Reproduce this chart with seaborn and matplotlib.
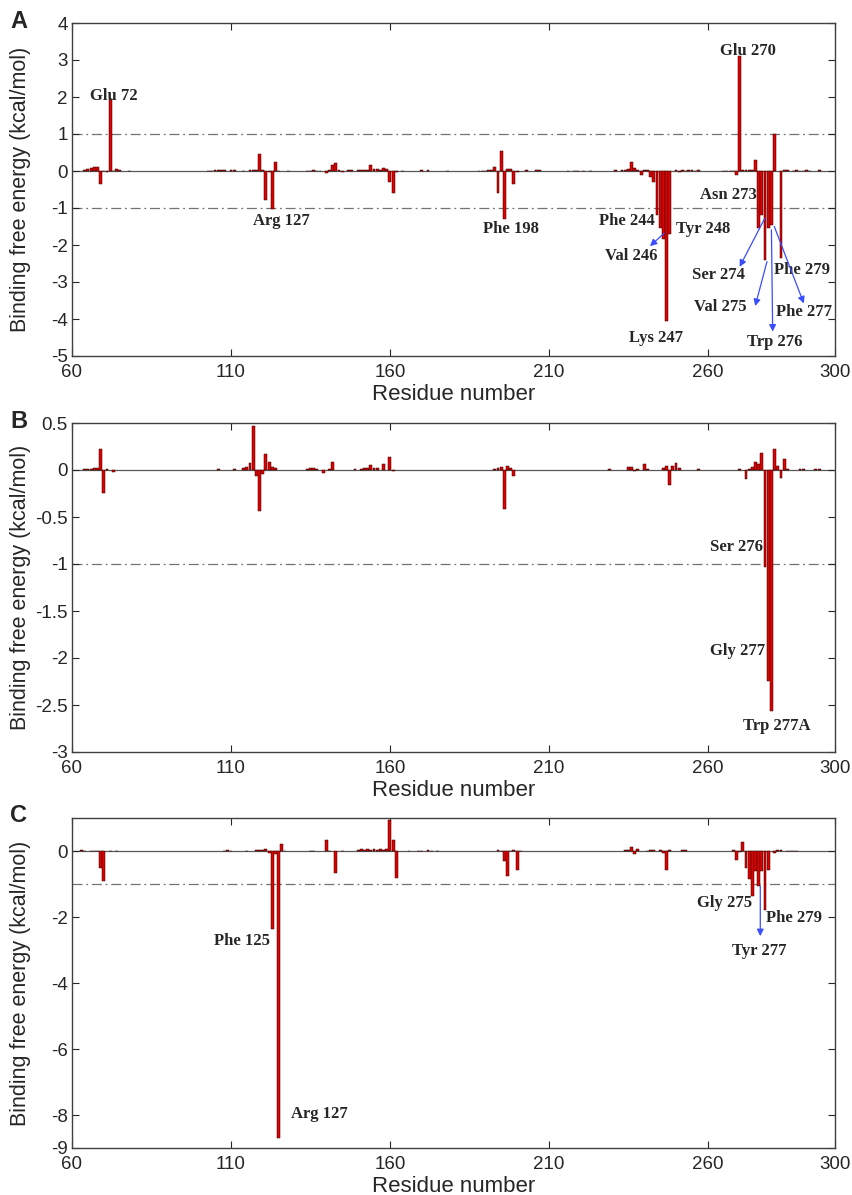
import matplotlib
matplotlib.use("Agg")
import matplotlib.pyplot as plt
import seaborn as sns
import pandas as pd

# ---- panel A: per-residue binding free energy (kcal/mol)
res_a = [64, 65, 66, 67, 68, 69, 70, 71, 72, 73, 74, 75, 78,
         103, 104, 105, 106, 107, 108, 110, 111, 114, 116, 117, 118, 119, 120, 121, 122, 123, 124, 125, 128,
         134, 135, 136, 137, 138, 140, 141, 142, 143, 144, 145, 147, 148, 150, 151, 152, 153, 154, 155,
         156, 157, 158, 159, 160, 161, 162, 164, 170, 172, 178,
         188, 189, 190, 191, 192, 193, 194, 195, 196, 197, 198, 199, 200, 203, 206, 207,
         216, 218, 219, 221, 223, 231, 233, 234, 235, 236, 237, 238, 239, 240, 241, 242, 243, 244, 245,
         246, 247, 248, 250, 251, 252, 253, 254, 255, 256, 257,
         265, 266, 267, 268, 269, 270, 271, 272, 273, 274, 275, 276, 277, 278, 279, 280, 281, 283, 284,
         285, 287, 288, 289, 290, 291, 292, 295]
dg_a = [0.03, 0.05, 0.07, 0.10, 0.10, -0.35, 0.01, -0.03, 1.95, 0.01, 0.06, 0.02, 0.01,
        0.01, 0.01, 0.02, 0.02, 0.03, 0.03, 0.02, 0.02, 0.01, 0.02, 0.03, 0.04, 0.45, 0.03, -0.78, -0.02, -1.04, 0.23, 0.01, 0.01,
        0.01, 0.01, 0.02, 0.01, 0.01, -0.05, 0.03, 0.15, 0.22, 0.02, -0.02, 0.02, 0.02, 0.03, 0.02, 0.04, 0.03, 0.15, 0.05,
        0.06, 0.02, 0.08, 0.05, -0.30, -0.60, -0.02, 0.01, 0.02, 0.02, 0.01,
        0.01, 0.01, 0.01, 0.02, 0.03, 0.12, -0.60, 0.53, -1.30, 0.05, 0.05, -0.35, -0.02, 0.02, 0.04, 0.03,
        0.01, 0.01, 0.01, 0.01, 0.01, 0.02, 0.02, 0.03, 0.05, 0.23, 0.07, 0.03, -0.10, 0.03, 0.02, -0.15, -0.30, -1.20, -1.55,
        -1.85, -4.05, -1.70, 0.03, -0.03, 0.02, 0.01, 0.02, 0.02, 0.01, 0.02,
        0.01, 0.01, 0.01, 0.01, -0.10, 3.10, 0.02, 0.02, 0.02, 0.02, 0.30, -1.55, -1.20, -2.40, -1.55, -1.45, 1.00, -2.35, 0.02,
        0.02, 0.01, 0.02, 0.01, 0.01, 0.02, 0.01, 0.02]

# ---- panel B
res_b = [64, 65, 66, 67, 68, 69, 70, 71, 73,
         106, 111, 114, 115, 116, 117, 118, 119, 120, 121, 122, 123, 124,
         134, 135, 136, 137, 139, 141, 142, 149, 151, 152, 153, 154, 155, 156, 158, 160, 161,
         193, 194, 195, 196, 197, 198, 199,
         229, 235, 236, 237, 238, 240, 241, 246, 247, 248, 249, 250, 251, 257,
         270, 272, 273, 274, 275, 276, 277, 278, 279, 280, 281, 282, 283, 284, 285, 289, 290, 294, 295]
dg_b = [0.01, 0.01, 0.015, 0.02, 0.02, 0.22, -0.24, 0.01, -0.02,
        0.01, 0.01, 0.02, 0.03, 0.07, 0.47, -0.06, -0.44, -0.04, 0.17, 0.08, 0.03, 0.02,
        0.01, 0.02, 0.02, 0.01, -0.03, 0.01, 0.09, 0.01, 0.01, 0.02, 0.02, 0.05, 0.02, 0.02, 0.06, 0.14, -0.01,
        0.01, 0.02, 0.03, -0.42, 0.04, 0.02, -0.06,
        0.01, 0.03, 0.03, -0.01, 0.01, 0.06, 0.01, 0.02, 0.04, -0.16, 0.04, 0.07, 0.02, 0.01,
        0.01, -0.10, 0.01, 0.03, 0.08, 0.06, 0.18, -1.03, -2.24, -2.56, 0.22, 0.04, -0.09, 0.12, 0.01, 0.01, 0.01, 0.01, 0.01]

# ---- panel C
res_c = [63, 64, 66, 67, 68, 69, 70, 72, 74,
         108, 109, 110, 115, 118, 119, 120, 121, 122, 123, 124, 125, 126, 127,
         135, 136, 140, 141, 143, 145, 150, 151, 152, 153, 154, 155, 156, 157, 158, 159, 160, 161, 162,
         166, 169, 170, 172, 173, 175,
         194, 195, 196, 197, 198, 199, 200, 201,
         234, 235, 236, 237, 238, 241, 242, 243, 245, 246, 247, 248, 252, 253,
         268, 269, 270, 271, 272, 273, 274, 275, 276, 277, 278, 279, 281, 282, 283, 285, 286, 287, 288]
dg_c = [0.03, 0.01, 0.01, 0.01, 0.01, -0.50, -0.90, 0.01, -0.01,
        0.01, 0.02, 0.01, -0.01, 0.02, 0.03, 0.04, 0.06, -0.05, -2.35, -0.08, -8.70, 0.20, -0.01,
        0.01, 0.01, 0.32, 0.01, -0.68, -0.01, 0.03, 0.05, 0.02, 0.07, 0.02, 0.07, 0.02, 0.07, 0.03, 0.07, 0.95, 0.33, -0.83,
        -0.01, 0.01, 0.01, 0.02, 0.01, -0.01,
        0.03, 0.01, -0.30, -0.75, 0.01, 0.03, -0.58, -0.01,
        0.02, 0.02, 0.12, -0.08, 0.05, 0.01, 0.02, 0.03, 0.03, -0.05, -0.58, 0.02, 0.04, 0.03,
        0.02, -0.27, -0.03, 0.28, -0.50, -0.85, -1.35, -0.60, -1.05, -0.60, -1.80, -0.58, -0.05, 0.02, 0.03, 0.01, 0.01, 0.01, 0.01]

# residue labels: (text, x, y)
labels_a = [("Glu 72", 73, 2.03), ("Arg 127", 126, -1.35), ("Phe 198", 198.2, -1.58),
            ("Phe 244", 234.5, -1.34), ("Tyr 248", 258.4, -1.58), ("Val 246", 236, -2.3),
            ("Lys 247", 243.6, -4.5), ("Glu 270", 272.6, 3.24), ("Asn 273", 266.5, -0.65),
            ("Ser 274", 263.4, -2.81), ("Val 275", 263.9, -3.68), ("Phe 279", 289.7, -2.68),
            ("Phe 277", 290.2, -3.8), ("Trp 276", 281.2, -4.61)]
arrows_a = [((246.3, -1.68), (241.8, -2.03)), ((277.9, -1.28), (270.0, -2.59)),
            ((278.6, -2.45), (274.9, -3.65)), ((280.0, -1.59), (280.4, -4.34)),
            ((280.9, -1.50), (290.2, -3.58))]
labels_b = [("Ser 276", 269.1, -0.815), ("Gly 277", 269.5, -1.93), ("Trp 277A", 281.6, -2.72)]
labels_c = [("Phe 125", 113.5, -2.73), ("Arg 127", 137.7, -7.98), ("Gly 275", 265.3, -1.59),
            ("Phe 279", 287.2, -2.02), ("Tyr 277", 276.3, -3.03)]
arrows_c = [((276.5, -1.06), (276.5, -2.58))]

sns.set_style("ticks")
plt.rcParams["font.family"] = ["Liberation Sans", "DejaVu Sans"]

BAR = "#e00000"
SERIF = ["Liberation Serif", "DejaVu Serif"]

fig = plt.figure(figsize=(8.53, 11.95), dpi=100)
W, H = 853, 1195


def panel(rect_px, res, dg, ylim, yticks, refs, letter, labels, arrows):
    left, top, right, bottom = rect_px
    ax = fig.add_axes([left / W, 1 - bottom / H, (right - left) / W, (bottom - top) / H])
    df = pd.DataFrame({"res": res, "dg": dg})
    sns.barplot(data=df, x="res", y="dg", native_scale=True, color=BAR,
                saturation=1, edgecolor="#2a0000", linewidth=0.35, width=0.9, ax=ax)
    ax.axhline(0, color="0.35", lw=0.9, zorder=0.5)
    for r in refs:
        ax.axhline(r, color="0.45", lw=0.9, ls=(0, (8, 3, 1.5, 3)), zorder=0.5)
    ax.set_xlim(60, 300)
    ax.set_ylim(*ylim)
    ax.set_xticks([60, 110, 160, 210, 260, 300])
    ax.set_yticks(yticks)
    ax.set_yticklabels([f"{v:g}" for v in yticks])
    ax.tick_params(direction="in", top=True, right=True, length=5, width=0.8,
                   labelsize=13.5, pad=3)
    ax.tick_params(axis="x", pad=6)
    for s in ax.spines.values():
        s.set_linewidth(1.0)
        s.set_color("0.25")
    ax.set_xlabel("Residue number", fontsize=16)
    ax.set_ylabel("Binding free energy (kcal/mol)", fontsize=15.5)
    hpx = bottom - top
    ax.xaxis.set_label_coords(0.5, -28 / hpx)
    ax.yaxis.set_label_coords(-41 / (right - left), 0.5)
    ax.text(-62 / (right - left), 1 + 2 / hpx, letter, transform=ax.transAxes,
            fontsize=17, fontweight="bold", ha="left", va="center")
    for txt, x, y in labels:
        ax.text(x, y, txt, family=SERIF, fontweight="bold", fontsize=12,
                ha="center", va="center")
    for (x0, y0), (x1, y1) in arrows:
        ax.annotate("", xy=(x1, y1), xytext=(x0, y0),
                    arrowprops=dict(arrowstyle="-|>", color="#3a4cff", lw=0.9,
                                    mutation_scale=10, shrinkA=0, shrinkB=0))
    return ax


panel((72, 23, 835, 356), res_a, dg_a, (-5, 4), list(range(-5, 5)), [1, -1], "A",
      labels_a, arrows_a)
panel((72, 423, 835, 752), res_b, dg_b, (-3, 0.5), [-3, -2.5, -2, -1.5, -1, -0.5, 0, 0.5],
      [-1], "B", labels_b, [])
panel((72, 818, 835, 1148), res_c, dg_c, (-9, 1), [-9, -8, -6, -4, -2, 0], [-1], "C",
      labels_c, arrows_c)

fig.savefig("out.png", dpi=100)
